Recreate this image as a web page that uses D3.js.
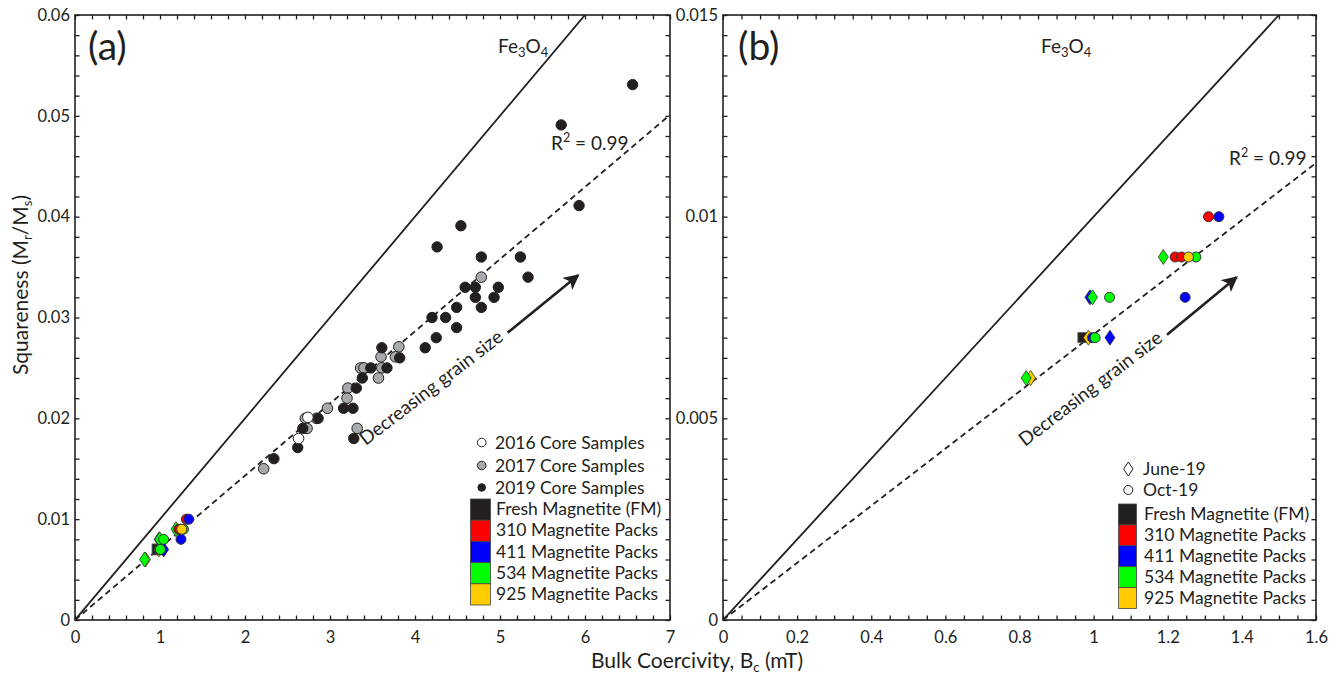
<!DOCTYPE html>
<html><head><meta charset="utf-8">
<script src="https://cdn.jsdelivr.net/npm/d3@7"></script>
<style>
body{margin:0;background:#fff}
svg{display:block}
text{font-family:Lato,'Open Sans',sans-serif;fill:#231f20}
</style>
</head><body>
<svg id="c" width="1340" height="681"></svg>
<script>
// ---------- DATA ----------
// Panel (a) core samples [Bc (mT), Mr/Ms]
const core2016 = [[2.74,0.0201],[2.63,0.0180]];
const core2017 = [[4.78,0.0340],[3.81,0.0271],[3.77,0.0261],[3.60,0.0261],[3.36,0.0250],[3.40,0.0250],
  [3.61,0.0250],[3.57,0.0240],[3.21,0.0230],[3.20,0.0220],[2.97,0.0210],[2.84,0.0200],[2.71,0.0200],
  [2.73,0.0190],[3.32,0.0190],[2.22,0.0150]];
const core2019 = [[6.56,0.0531],[5.72,0.0491],[5.93,0.0411],[4.54,0.0391],[4.26,0.0370],[4.78,0.0360],
  [5.24,0.0360],[5.33,0.0340],[4.59,0.0330],[4.71,0.0330],[4.98,0.0330],[4.71,0.0320],[4.93,0.0320],
  [4.49,0.0310],[4.78,0.0310],[4.20,0.0300],[4.36,0.0300],[4.49,0.0290],[4.25,0.0280],[4.12,0.0270],
  [3.61,0.0270],[3.82,0.0260],[3.48,0.0250],[3.67,0.0250],[3.38,0.0240],[3.31,0.0230],[3.16,0.0210],
  [3.27,0.0210],[2.86,0.0200],[2.68,0.0190],[3.28,0.0180],[2.62,0.0171],[2.34,0.0160]];
// Magnetite packs (both panels)
const fresh   = [[0.971,0.007]];
const june411 = [[0.99,0.008],[1.044,0.007]];
const june925 = [[0.830,0.006],[0.986,0.007]];
const june534 = [[0.818,0.006],[0.997,0.008],[1.188,0.009]];
const oct310  = [[1.31,0.010],[1.22,0.009],[1.237,0.009]];
const oct411  = [[1.338,0.010],[1.247,0.008],[0.997,0.007]];
const oct534  = [[1.276,0.009],[1.043,0.008],[1.004,0.007]];
const oct925  = [[1.256,0.009]];
// Reference lines
const fe3o4Line = [[0,0],[6,0.06]];
const fitLineA  = [[0,0],[7,0.0501]];
const fitLineB  = [[0,0],[1.6,0.01133]];
// Ticks
const xTicksA = [0,1,2,3,4,5,6,7];
const yTicksA = [0,0.01,0.02,0.03,0.04,0.05,0.06];
const xTicksB = [0,0.2,0.4,0.6,0.8,1.0,1.2,1.4,1.6];
const yTicksB = [0,0.005,0.01,0.015];
const xTickLabelsA = ["0","1","2","3","4","5","6","7"];
const yTickLabelsA = ["0","0.01","0.02","0.03","0.04","0.05","0.06"];
const xTickLabelsB = ["0","0.2","0.4","0.6","0.8","1","1.2","1.4","1.6"];
const yTickLabelsB = ["0","0.005","0.01","0.015"];
const legendCoreA = ["2016 Core Samples","2017 Core Samples","2019 Core Samples"];
const legendDateB = ["June-19","Oct-19"];
const legendPacks = ["Fresh Magnetite (FM)","310 Magnetite Packs","411 Magnetite Packs","534 Magnetite Packs","925 Magnetite Packs"];

// ---------- STYLE ----------
const INK = "#231f20";
const FONT = "Lato,'Open Sans',sans-serif";
const COL = {fm:"#231f20", p310:"#ff0000", p411:"#0000ff", p534:"#00ff00", p925:"#ffcc00"};
const packColors = [COL.fm, COL.p310, COL.p411, COL.p534, COL.p925];

const svg = d3.select("#c");
const yTop = 15, yBot = 620;

function range(a,b,s){const o=[];const n=Math.round((b-a)/s);for(let i=0;i<=n;i++)o.push(+(a+i*s).toFixed(6));return o;}

function panel(cfg){
  const x = d3.scaleLinear().domain(cfg.xDom).range([cfg.left,cfg.right]);
  const y = d3.scaleLinear().domain(cfg.yDom).range([yBot,yTop]);
  const g = svg.append("g");
  const minorX = range(cfg.xDom[0],cfg.xDom[1],cfg.xMinor);
  const minorY = range(cfg.yDom[0],cfg.yDom[1],cfg.yMinor);
  const ax = [
    [d3.axisBottom(x), `translate(0,${yBot})`, minorX],
    [d3.axisTop(x), `translate(0,${yTop})`, minorX],
    [d3.axisLeft(y), `translate(${cfg.left},0)`, minorY],
    [d3.axisRight(y), `translate(${cfg.right},0)`, minorY]
  ];
  ax.forEach(([a,tr,mn])=>{
    const gm = g.append("g").attr("transform",tr)
      .call(a.tickValues(mn).tickSize(-4.5).tickFormat(""));
    gm.select(".domain").remove();
    gm.selectAll("line").attr("stroke",INK).attr("stroke-width",1.3);
  });
  g.append("rect").attr("x",cfg.left).attr("y",yTop).attr("width",cfg.right-cfg.left).attr("height",yBot-yTop)
    .attr("fill","none").attr("stroke",INK).attr("stroke-width",1.6);
  const gx = g.append("g").attr("transform",`translate(0,${yBot})`)
    .call(d3.axisBottom(x).tickValues(cfg.xTicks).tickSize(0).tickPadding(11.5)
      .tickFormat((d,i)=>cfg.xLabels[i]));
  gx.select(".domain").remove();
  gx.selectAll("text").attr("font-size",16.5).attr("font-family",FONT).attr("fill",INK);
  const gy = g.append("g").attr("transform",`translate(${cfg.left},0)`)
    .call(d3.axisLeft(y).tickValues(cfg.yTicks).tickSize(0).tickPadding(5)
      .tickFormat((d,i)=>cfg.yLabels[i]));
  gy.select(".domain").remove();
  gy.selectAll("text").attr("font-size",16.5).attr("font-family",FONT).attr("fill",INK);

  const clipId = "clip"+cfg.name;
  svg.append("clipPath").attr("id",clipId).append("rect")
    .attr("x",cfg.left).attr("y",yTop).attr("width",cfg.right-cfg.left).attr("height",yBot-yTop);
  const pg = g.append("g").attr("clip-path",`url(#${clipId})`);
  const line = d3.line().x(d=>x(d[0])).y(d=>y(d[1]));
  pg.append("path").datum(fe3o4Line).attr("d",line).attr("fill","none").attr("stroke",INK).attr("stroke-width",1.8);
  pg.append("path").datum(cfg.fit).attr("d",line).attr("fill","none").attr("stroke",INK)
    .attr("stroke-width",1.8).attr("stroke-dasharray","6,4");
  return {x,y,g,pg};
}

const A = panel({name:"a",left:75,right:670,xDom:[0,7],yDom:[0,0.06],xMinor:0.2,yMinor:0.002,
  xTicks:xTicksA,yTicks:yTicksA,xLabels:xTickLabelsA,yLabels:yTickLabelsA,fit:fitLineA});
const B = panel({name:"b",left:723,right:1316,xDom:[0,1.6],yDom:[0,0.015],xMinor:0.05,yMinor:0.0005,
  xTicks:xTicksB,yTicks:yTicksB,xLabels:xTickLabelsB,yLabels:yTickLabelsB,fit:fitLineB});

function circles(P,data,fill,r,stroke){
  P.g.append("g").selectAll("circle").data(data).join("circle")
    .attr("cx",d=>P.x(d[0])).attr("cy",d=>P.y(d[1])).attr("r",r)
    .attr("fill",fill).attr("stroke",stroke).attr("stroke-width",1);
}
function diamonds(P,data,fill){
  P.g.append("g").selectAll("path").data(data).join("path")
    .attr("d",d=>{const cx=P.x(d[0]),cy=P.y(d[1]);return `M${cx},${cy-7.5}L${cx+5},${cy}L${cx},${cy+7.5}L${cx-5},${cy}Z`;})
    .attr("fill",fill).attr("stroke","#333").attr("stroke-width",0.8);
}
function squares(P,data,fill,s){
  P.g.append("g").selectAll("rect").data(data).join("rect")
    .attr("x",d=>P.x(d[0])-s/2).attr("y",d=>P.y(d[1])-s/2).attr("width",s).attr("height",s)
    .attr("fill",fill).attr("stroke","#555").attr("stroke-width",0.8);
}
function packs(P,sq){
  squares(P,fresh,COL.fm,sq);
  diamonds(P,june411,COL.p411);
  diamonds(P,june925,COL.p925);
  diamonds(P,june534,COL.p534);
  circles(P,oct310,COL.p310,5,"#333");
  circles(P,oct411,COL.p411,5,"#333");
  circles(P,oct534,COL.p534,5,"#333");
  circles(P,oct925,COL.p925,5,"#333");
}

circles(A,core2017,"#a7a9ac",5.3,INK);
circles(A,core2019,INK,5.2,INK);
circles(A,core2016,"#ffffff",5.3,INK);
packs(A,11);
packs(B,10);

// ---------- annotations ----------
function txt(x,y,s,size,anchor){return svg.append("text").attr("x",x).attr("y",y).attr("font-size",size)
  .attr("text-anchor",anchor||"start").text(s);}
txt(88,60,"(a)",39);
txt(738,60,"(b)",39);

function fe(x,y){
  const t = svg.append("text").attr("x",x).attr("y",y).attr("font-size",19);
  t.append("tspan").text("Fe");
  t.append("tspan").attr("font-size",13).attr("dy",4).text("3");
  t.append("tspan").attr("dy",-4).text("O");
  t.append("tspan").attr("font-size",13).attr("dy",4).text("4");
}
fe(498,53); fe(1041,53);

function r2(x,y){
  const t = svg.append("text").attr("x",x).attr("y",y).attr("font-size",19);
  t.append("tspan").text("R");
  t.append("tspan").attr("font-size",12.5).attr("dy",-8).text("2");
  t.append("tspan").attr("dy",8).text(" = 0.99");
}
r2(551,150); r2(1229,165);

svg.append("defs").append("marker").attr("id","ah").attr("viewBox","0 0 10 10").attr("refX",9).attr("refY",5)
  .attr("markerWidth",6).attr("markerHeight",6).attr("markerUnits","strokeWidth").attr("orient","auto")
  .append("path").attr("d","M0,0L10,5L0,10L2.5,5Z").attr("fill","#231f20");
function arrow(P,a,b){
  svg.append("line").attr("x1",P.x(a[0])).attr("y1",P.y(a[1])).attr("x2",P.x(b[0])).attr("y2",P.y(b[1]))
    .attr("stroke",INK).attr("stroke-width",2.6).attr("marker-end","url(#ah)");
}
arrow(A,[5.09,0.0285],[5.92,0.0342]);
arrow(B,[1.198,0.00707],[1.386,0.0085]);
function dgs(P,p,ang){
  const x=P.x(p[0]),y=P.y(p[1]);
  svg.append("text").attr("transform",`translate(${x},${y}) rotate(${ang})`).attr("font-size",19)
    .text("Decreasing grain size");
}
dgs(A,[3.42,0.01726],-37.5);
dgs(B,[0.815,0.00429],-37.5);

const yl = svg.append("text").attr("transform","translate(28,285) rotate(-90)").attr("font-size",21).attr("text-anchor","middle");
yl.append("tspan").text("Squareness (M");
yl.append("tspan").attr("font-size",13).attr("dy",4).text("r");
yl.append("tspan").attr("dy",-4).text("/M");
yl.append("tspan").attr("font-size",13).attr("dy",4).text("s");
yl.append("tspan").attr("dy",-4).text(")");
const xl = svg.append("text").attr("x",697).attr("y",668).attr("font-size",21).attr("text-anchor","middle");
xl.append("tspan").text("Bulk Coercivity, B");
xl.append("tspan").attr("font-size",13).attr("dy",4).text("c");
xl.append("tspan").attr("dy",-4).text(" (mT)");

// ---------- legends ----------
const lgA = svg.append("g");
const coreFills = ["#ffffff","#a7a9ac",INK];
const coreYs = [442.5,465.5,487.5];
legendCoreA.forEach((s,i)=>{
  lgA.append("circle").attr("cx",481.7).attr("cy",coreYs[i]).attr("r",i===2?3.8:4.3)
    .attr("fill",coreFills[i]).attr("stroke",INK).attr("stroke-width",1);
  lgA.append("text").attr("x",495).attr("y",coreYs[i]+6.3).attr("font-size",17.5).text(s);
});
legendPacks.forEach((s,i)=>{
  const y0 = 499 + i*21.2;
  lgA.append("rect").attr("x",470.5).attr("y",y0).attr("width",20).attr("height",21.2)
    .attr("fill",packColors[i]).attr("stroke","#444").attr("stroke-width",0.8);
  lgA.append("text").attr("x",496).attr("y",y0+16.2).attr("font-size",17.5).text(s);
});
const lgB = svg.append("g");
lgB.append("path").attr("d","M1128.3,462L1133,469L1128.3,476L1123.6,469Z").attr("fill","#fff").attr("stroke",INK).attr("stroke-width",1);
lgB.append("circle").attr("cx",1128.3).attr("cy",490).attr("r",4.5).attr("fill","#fff").attr("stroke",INK).attr("stroke-width",1);
legendDateB.forEach((s,i)=>{
  lgB.append("text").attr("x",1143).attr("y",[474.5,496][i]).attr("font-size",17.5).text(s);
});
legendPacks.forEach((s,i)=>{
  const y0 = 504 + i*20.9;
  lgB.append("rect").attr("x",1118.5).attr("y",y0).attr("width",18).attr("height",20.9)
    .attr("fill",packColors[i]).attr("stroke","#444").attr("stroke-width",0.8);
  lgB.append("text").attr("x",1144).attr("y",y0+16.2).attr("font-size",17.5).text(s);
});
</script>
</body></html>
